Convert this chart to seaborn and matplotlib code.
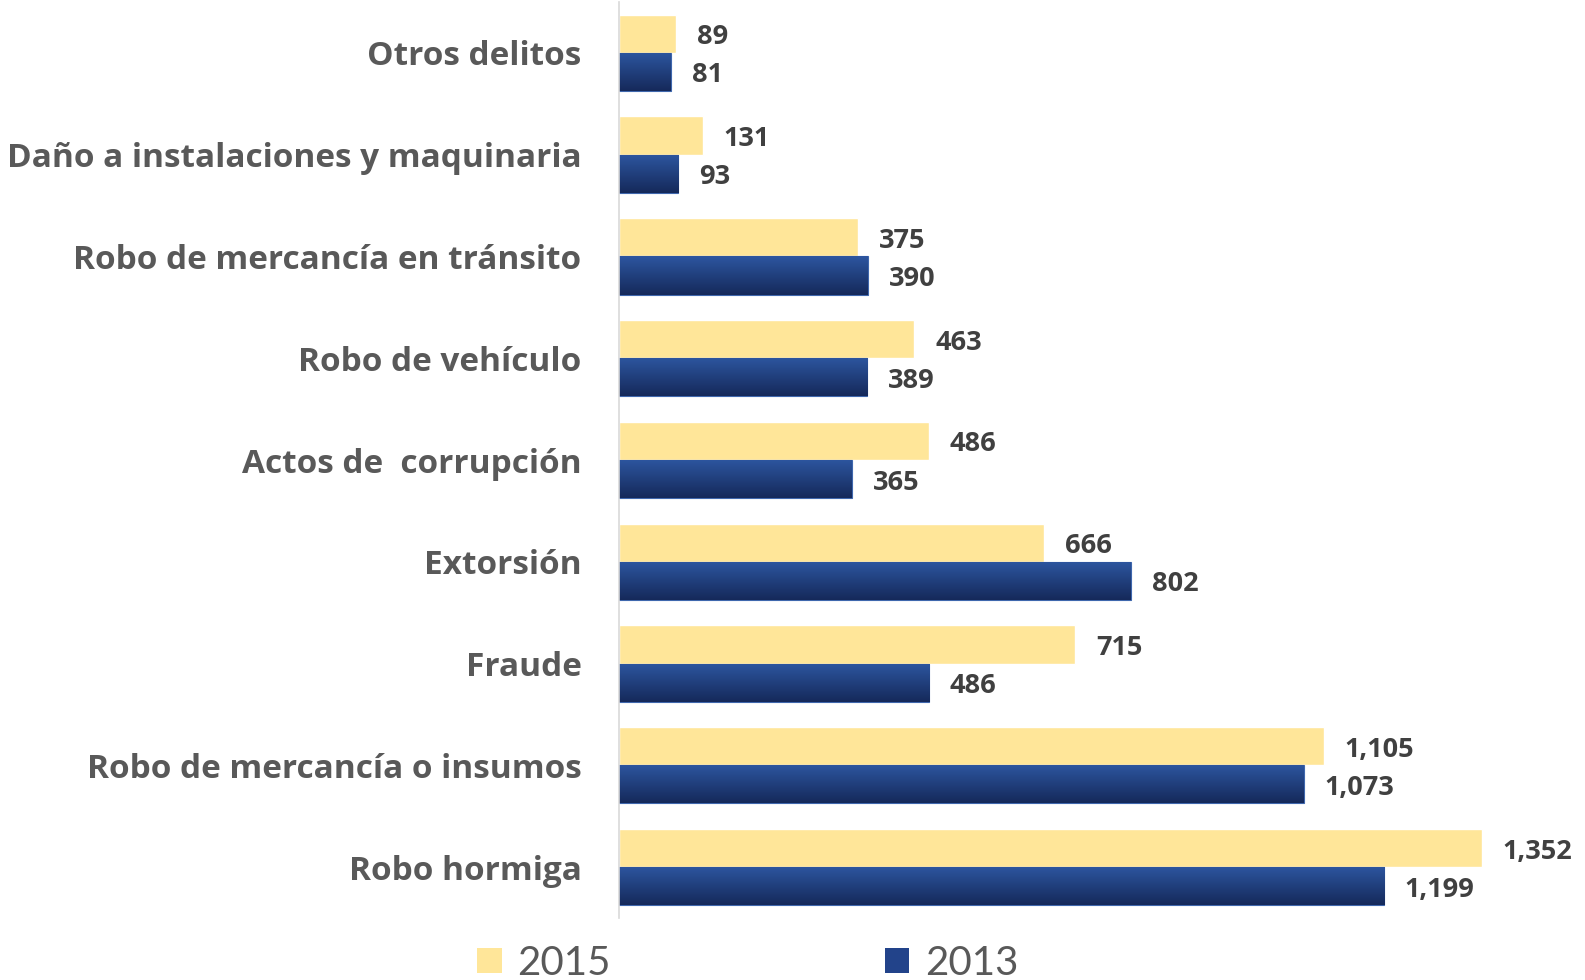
import matplotlib
matplotlib.use("Agg")
import matplotlib.pyplot as plt
import seaborn as sns
import pandas as pd
import numpy as np
from matplotlib.patches import Patch
from matplotlib.colors import LinearSegmentedColormap

# Delitos registrados por tipo, 2015 frente a 2013
categories = [
    "Otros delitos",
    "Daño a instalaciones y maquinaria",
    "Robo de mercancía en tránsito",
    "Robo de vehículo",
    "Actos de  corrupción",
    "Extorsión",
    "Fraude",
    "Robo de mercancía o insumos",
    "Robo hormiga",
]
values_2015 = [89, 131, 375, 463, 486, 666, 715, 1105, 1352]
values_2013 = [81, 93, 390, 389, 365, 802, 486, 1073, 1199]
years = ["2015", "2013"]

YELLOW = "#FFE699"
BLUE_TOP = "#2D56A0"
BLUE_BOTTOM = "#15295A"
BLUE_MID = "#22438A"

df = pd.DataFrame({
    "Delito": categories * 2,
    "Año": [years[0]] * len(categories) + [years[1]] * len(categories),
    "Valor": values_2015 + values_2013,
})

sns.set_theme(style="white")
plt.rcParams["font.family"] = ["Open Sans", "DejaVu Sans"]

W, H = 1585, 980
fig = plt.figure(figsize=(W / 100, H / 100), dpi=100)
ax = fig.add_axes([619 / W, 1 - 918 / H, 1 - 619 / W, 916 / H])

sns.barplot(
    data=df, y="Delito", x="Valor", hue="Año", hue_order=years,
    palette={years[0]: YELLOW, years[1]: BLUE_MID}, orient="h",
    width=0.75, saturation=1, ax=ax, legend=False,
)

# vertical gradient on the 2013 bars
grad = np.linspace(0, 1, 128).reshape(-1, 1)
cmap = LinearSegmentedColormap.from_list("azul", [BLUE_TOP, BLUE_BOTTOM])
for p in ax.containers[1]:
    x0, y0, w, h = p.get_x(), p.get_y(), p.get_width(), p.get_height()
    im = ax.imshow(grad, cmap=cmap, extent=[x0, x0 + w, y0 + h, y0],
                   aspect="auto", origin="upper", zorder=p.get_zorder() + 0.1,
                   interpolation="bilinear")
    im.set_clip_path(p)
    p.set_edgecolor("#3F67AD")
    p.set_linewidth(0.8)

ax.set_xlim(0, 1514)
ax.set_ylim(len(categories) - 0.5, -0.5)

# value labels, nudged slightly below the bar centre
for cont, vals in zip(ax.containers, [values_2015, values_2013]):
    texts = ax.bar_label(cont, labels=[f"{v:,}" for v in vals], padding=15,
                         fontsize=19.5, fontweight="bold", color="#404040")
    for t in texts:
        t.xyann = (15, -2.5)

ax.set_xlabel("")
ax.set_ylabel("")
ax.set_xticks([])
ax.tick_params(axis="y", length=0, pad=27, labelsize=24, labelcolor="#595959")
for lbl in ax.get_yticklabels():
    lbl.set_fontweight("bold")

for side in ["top", "right", "bottom"]:
    ax.spines[side].set_visible(False)
ax.spines["left"].set_color("#D9D9D9")
ax.spines["left"].set_linewidth(1.2)

handles = [Patch(facecolor=YELLOW, edgecolor="none"),
           Patch(facecolor=BLUE_MID, edgecolor="none")]
leg = fig.legend(handles, years, ncol=2, loc="center",
                 bbox_to_anchor=(748 / W, 1 - 963 / H), frameon=False,
                 prop={"family": ["Lato", "DejaVu Sans"], "size": 29},
                 handlelength=0.6, handleheight=0.6,
                 handletextpad=0.4, columnspacing=6.8)
for t in leg.get_texts():
    t.set_color("#595959")

fig.savefig("out.png", dpi=100, facecolor="white")
